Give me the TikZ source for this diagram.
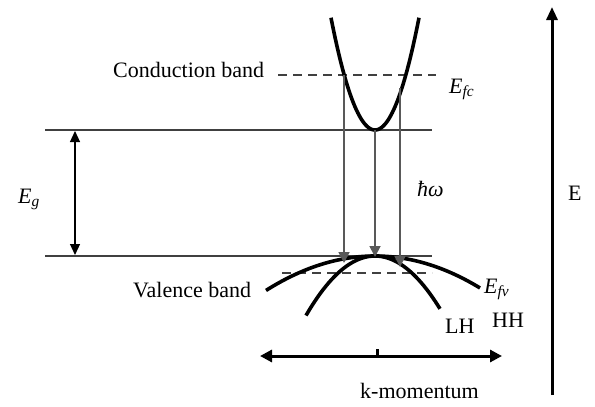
\documentclass[tikz,border=0pt]{standalone}
\usepackage{fontspec}
\setmainfont{Liberation Serif}
\usetikzlibrary{arrows.meta}

\begin{document}
\begin{tikzpicture}[
  x=1pt,y=-1pt,
  lbl/.style={font=\fontsize{22}{24}\selectfont,inner sep=0pt},
  band/.style={line width=3.6pt,black},
  level/.style={line width=1.2pt,black!75},
  fermi/.style={line width=1.3pt,dash pattern=on 9pt off 6pt,black!75},
  trans/.style={-{Triangle[length=11pt,width=11pt]},line width=1.8pt,black!65},
  axis/.style={line width=3pt,black},
]
\useasboundingbox (0,0) rectangle (595,407);
% band edges
\draw[level] (45,130) -- (432,130);
\draw[level] (45,256) -- (432,256);
\draw[{Triangle[length=11pt,width=10pt]}-{Triangle[length=11pt,width=10pt]},line width=1.2pt] (75,131) -- (75,255);
% quasi-Fermi levels
\draw[fermi] (278,75) -- (436,75);
\draw[fermi] (282,273) -- (432,273);
% bands
\draw[band] plot[domain=331:419,samples=60] (\x,{130-0.058*(\x-375)^2});
\draw[band] plot[domain=266:480,samples=60] (\x,{256+0.0029*(\x-375)^2});
\draw[band] plot[domain=306:440,samples=60] (\x,{256+0.0125*(\x-375)^2});
% transitions
\coordinate (c1) at (344,75);
\coordinate (c2) at (375,130);
\coordinate (c3) at (400,88);
\coordinate (v1) at (344,263);
\coordinate (v2) at (375,257);
\coordinate (v3) at (400,267);
\draw[trans] (c1) -- (v1);
\draw[trans] (c2) -- (v2);
\draw[trans] (c3) -- (v3);
% axes
\draw[axis,{Triangle[length=12pt,width=12pt]}-{Triangle[length=12pt,width=12pt]}] (260,356) -- (502,356);
\draw[axis] (377,349) -- (377,356);
\draw[axis,-{Triangle[length=13pt,width=11pt]}] (552,395) -- (552,7);
% labels
\node[lbl,anchor=base west] (cb) at (113,77) {Conduction band};
\node[lbl,anchor=base west] (vb) at (133,297) {Valence band};
\node[lbl,anchor=base west] (efc) at (449,93) {\itshape E\textsubscript{fc}};
\node[lbl,anchor=base west] (efv) at (484,293) {\itshape E\textsubscript{fv}};
\node[lbl,anchor=base west] (eg) at (18,203) {\itshape E\textsubscript{g}};
\node[lbl,anchor=base west] (hw) at (417,196) {\itshape ħω};
\node[lbl,anchor=base west] (lh) at (445,333) {LH};
\node[lbl,anchor=base west] (hh) at (492,327) {HH};
\node[lbl,anchor=base west] (kk) at (360,398) {k-momentum};
\node[lbl,anchor=base west] (ee) at (568,200) {E};
\end{tikzpicture}
\end{document}
